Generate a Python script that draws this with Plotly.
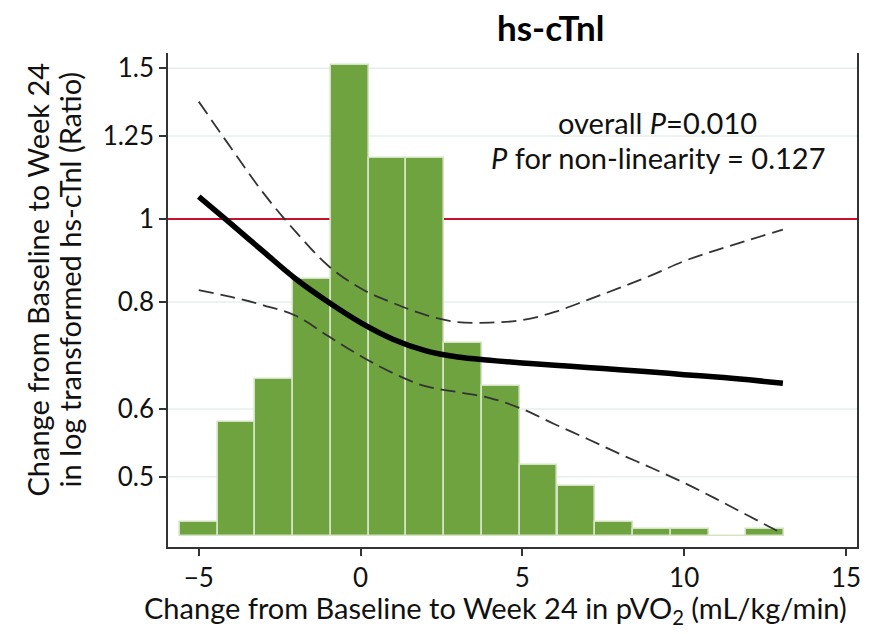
import plotly.graph_objects as go

# ---------------- data ----------------
bin_centers = [-5.0, -3.83, -2.67, -1.5, -0.33, 0.83, 2.0, 3.17, 4.33, 5.5,
               6.67, 7.83, 9.0, 10.17, 11.33, 12.5]
bin_counts = [2, 16, 22, 36, 66, 53, 53, 27, 21, 10, 7, 2, 1, 1, 0, 1]
bin_width = 1.167

curve_x = [-5, -4, -3, -2, -1, 0, 1, 2, 3, 4, 5, 6, 7, 8, 9, 10, 11, 12, 13.05]
ratio_fit = [1.062, 0.987, 0.916, 0.851, 0.800, 0.757, 0.724, 0.702, 0.690, 0.684,
             0.679, 0.675, 0.671, 0.667, 0.663, 0.658, 0.654, 0.649, 0.643]
ratio_upper = [1.371, 1.21, 1.072, 0.966, 0.882, 0.830, 0.798, 0.773, 0.758, 0.757,
               0.762, 0.779, 0.804, 0.831, 0.860, 0.893, 0.920, 0.945, 0.972]
ratio_lower = [0.826, 0.811, 0.793, 0.771, 0.730, 0.692, 0.661, 0.638, 0.628, 0.618,
               0.600, 0.576, 0.554, 0.532, 0.512, 0.492, 0.471, 0.450, 0.429]

y_tickvals = [0.5, 0.6, 0.8, 1, 1.25, 1.5]
y_ticktext = ["0.5", "0.6", "0.8", "1", "1.25", "1.5"]
x_tickvals = [-5, 0, 5, 10, 15]
reference_ratio = 1

FONT = "Lato"
AX = "#333333"
TXT = 29
TICK = 26

fig = go.Figure()

# histogram (linear axis y, drawn underneath)
fig.add_trace(go.Bar(
    x=bin_centers, y=bin_counts, width=bin_width,
    marker=dict(color="#6fa340", line=dict(color="#d3e3c3", width=1.6)),
    yaxis="y", xaxis="x", showlegend=False, hoverinfo="skip"))

# spline curves (log axis y2, overlaying)
dash_style = "15px,7px"
fig.add_trace(go.Scatter(x=curve_x, y=ratio_upper, mode="lines", yaxis="y2",
                         line=dict(color="#333333", width=1.8, dash=dash_style, shape="spline"),
                         showlegend=False))
fig.add_trace(go.Scatter(x=curve_x, y=ratio_lower, mode="lines", yaxis="y2",
                         line=dict(color="#333333", width=1.8, dash=dash_style, shape="spline"),
                         showlegend=False))
fig.add_trace(go.Scatter(x=curve_x, y=ratio_fit, mode="lines", yaxis="y2",
                         line=dict(color="#000000", width=5.5, shape="spline"),
                         showlegend=False))

shapes = []
for v in y_tickvals:
    if v == reference_ratio:
        continue
    shapes.append(dict(type="line", xref="paper", x0=0, x1=1, yref="y2", y0=v, y1=v,
                       line=dict(color="#e6efec", width=1.5), layer="below"))
shapes.append(dict(type="line", xref="paper", x0=0, x1=1, yref="y2",
                   y0=reference_ratio, y1=reference_ratio,
                   line=dict(color="#c8102e", width=2), layer="below"))

fig.update_layout(
    width=873, height=634,
    margin=dict(l=168, r=13, t=53, b=87),
    paper_bgcolor="white", plot_bgcolor="white",
    font=dict(family=FONT, size=TXT, color="#111111"),
    showlegend=False,
    bargap=0,
    xaxis=dict(range=[-5.95, 15.34], tickvals=x_tickvals, showgrid=False, zeroline=False,
               showline=True, linecolor=AX, linewidth=1.5, ticks="outside", ticklen=7,
               tickcolor=AX, tickwidth=1.5, tickfont=dict(size=TICK)),
    yaxis=dict(range=[-1.54, 67.68], side="right", showgrid=False, zeroline=False,
               showline=True, linecolor=AX, linewidth=1.5, showticklabels=False, ticks=""),
    yaxis2=dict(type="log", overlaying="y", side="left", anchor="x",
                range=[-0.3829, 0.1938], tickvals=y_tickvals, ticktext=y_ticktext,
                showgrid=False, zeroline=False, showline=True, linecolor=AX, linewidth=1.5,
                ticks="outside", ticklen=7, tickcolor=AX, tickwidth=1.5,
                tickfont=dict(size=TICK)),
    shapes=shapes,
    annotations=[
        dict(text="<b>hs-cTnl</b>", xref="paper", yref="paper", x=0.555, y=1.0526,
             xanchor="center", yanchor="middle", showarrow=False,
             font=dict(size=35, family=FONT, color="#000000")),
        dict(text="overall <i>P</i>=0.010", xref="paper", yref="paper", x=0.711, y=0.860,
             xanchor="center", yanchor="middle", showarrow=False, font=dict(size=TXT)),
        dict(text="<i>P</i> for non-linearity = 0.127", xref="paper", yref="paper",
             x=0.711, y=0.789, xanchor="center", yanchor="middle", showarrow=False,
             font=dict(size=TXT)),
        dict(text="Change from Baseline to Week 24 in pVO<sub>2</sub> (mL/kg/min)",
             xref="paper", yref="paper", x=0.4747, y=-0.1275, xanchor="center",
             yanchor="middle", showarrow=False, font=dict(size=TXT)),
        dict(text="Change from Baseline to Week 24",
             xref="paper", yref="paper", x=(37 - 168) / 692, y=0.5405, xanchor="center",
             yanchor="middle", textangle=-90, showarrow=False, font=dict(size=TXT)),
        dict(text="in log transformed hs-cTnl (Ratio)",
             xref="paper", yref="paper", x=(70 - 168) / 692, y=0.5405, xanchor="center",
             yanchor="middle", textangle=-90, showarrow=False, font=dict(size=TXT)),
    ],
)

fig.write_html("out.html")
